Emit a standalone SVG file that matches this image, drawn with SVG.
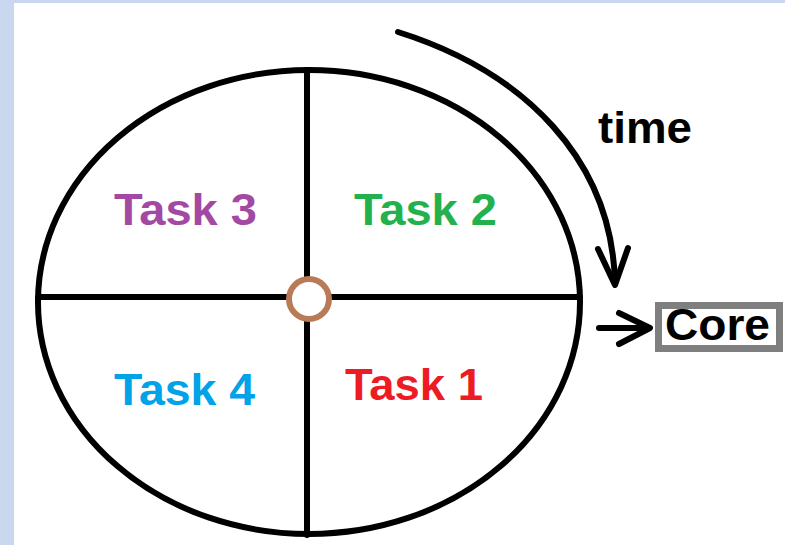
<svg xmlns="http://www.w3.org/2000/svg" width="785" height="545" viewBox="0 0 785 545">
  <defs>
    <style>
      .ln { fill: none; stroke: #000; stroke-width: 6; stroke-linecap: round; stroke-linejoin: round; }
      .lbl { font-family: "Liberation Sans", Arial, sans-serif; font-weight: bold; font-size: 45px; }
    </style>
  </defs>
  <rect x="0" y="0" width="785" height="545" fill="#C9D7EF"/>
  <rect x="14" y="3" width="771" height="542" fill="#FFFFFF"/>

  <g id="wheel">
    <ellipse class="ln" cx="309" cy="302" rx="271" ry="232"/>
    <line class="ln" x1="307" y1="70" x2="307" y2="535"/>
    <line class="ln" x1="38" y1="297" x2="580" y2="297"/>
  </g>
  <g id="hub">
    <circle cx="309" cy="299" r="20" fill="#FFFFFF" stroke="#B97A57" stroke-width="6"/>
  </g>

  <g id="task3"><text class="lbl" x="114" y="225" fill="#A349A4" textLength="143" lengthAdjust="spacingAndGlyphs">Task 3</text></g>
  <g id="task2"><text class="lbl" x="354" y="225" fill="#22B14C" textLength="143" lengthAdjust="spacingAndGlyphs">Task 2</text></g>
  <g id="task4"><text class="lbl" x="114" y="405" fill="#00A2E8" textLength="141" lengthAdjust="spacingAndGlyphs">Task 4</text></g>
  <g id="task1"><text class="lbl" x="345" y="400" fill="#ED1C24" textLength="138" lengthAdjust="spacingAndGlyphs">Task 1</text></g>

  <g id="time"><text class="lbl" x="598" y="143" fill="#000" textLength="94" lengthAdjust="spacingAndGlyphs">time</text></g>

  <g id="core">
    <rect x="658.5" y="305.5" width="121" height="43" fill="#FFFFFF" stroke="#7F7F7F" stroke-width="7"/>
    <text class="lbl" x="665" y="340" font-size="39" fill="#000" textLength="105" lengthAdjust="spacingAndGlyphs">Core</text>
  </g>

  <g id="connectors">
    <path class="ln" d="M398,32 C525,72 612,160 615,283"/>
    <path class="ln" d="M598,249 L615,285 L628,248"/>
    <path class="ln" d="M599,328 L648,328"/>
    <path class="ln" d="M619,313 L650,328 L619,344"/>
  </g>
</svg>
